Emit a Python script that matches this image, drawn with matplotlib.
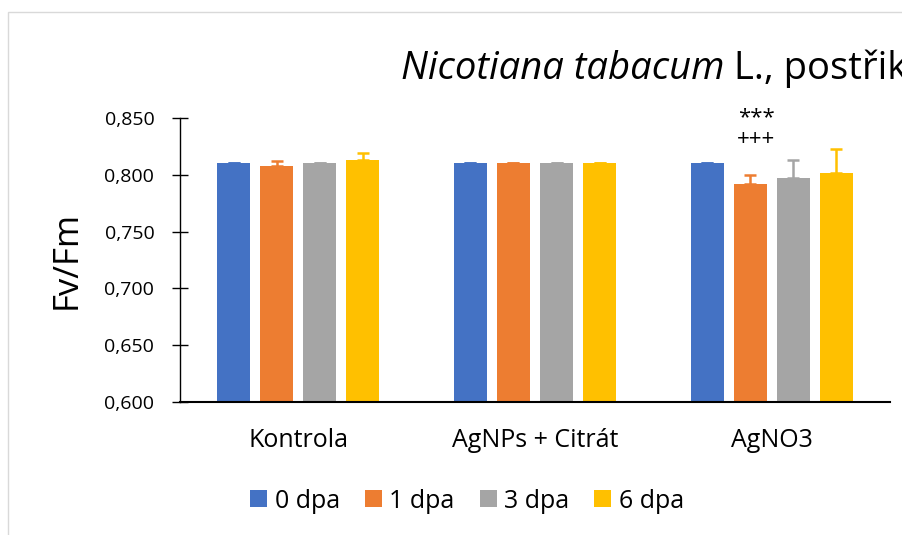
import matplotlib
matplotlib.use("Agg")
import matplotlib.pyplot as plt
import numpy as np
from matplotlib.patches import Rectangle

plt.rcParams['font.family'] = ['Open Sans', 'DejaVu Sans']

groups = ['Kontrola', 'AgNPs + Citrát', 'AgNO3']
series = ['0 dpa', '1 dpa', '3 dpa', '6 dpa']
colors = ['#4472C4', '#ED7D31', '#A5A5A5', '#FFC000']
values = [
    [0.810, 0.810, 0.810],
    [0.808, 0.810, 0.792],
    [0.810, 0.810, 0.797],
    [0.813, 0.810, 0.802],
]
errors = [
    [0.0008, 0.0008, 0.0008],
    [0.0045, 0.0008, 0.0076],
    [0.0008, 0.0008, 0.0156],
    [0.0060, 0.0008, 0.0206],
]
yticks = [0.600, 0.650, 0.700, 0.750, 0.800, 0.850]

W, H = 902, 535
fig = plt.figure(figsize=(W / 100, H / 100), dpi=100)
ax = fig.add_axes([180 / W, 1 - 402 / H, 710 / W, 284 / H])

x = np.arange(len(groups))
bw = 0.139
step = 0.182
for i, s in enumerate(series):
    pos = x + (i - 1.5) * step
    ax.bar(pos, values[i], bw, color=colors[i], label=s, zorder=2)
    ax.errorbar(pos, values[i], yerr=[np.zeros(3), errors[i]], fmt='none',
                ecolor=colors[i], elinewidth=1.8, capsize=4.5, capthick=1.8,
                zorder=3)

ax.set_ylim(0.6, 0.85)
ax.set_xlim(-0.5, 2.5)
ax.set_yticks(yticks)
ax.set_yticklabels([f'{v:.3f}'.replace('.', ',') for v in yticks], fontsize=14)
ax.set_xticks(x)
ax.set_xticklabels(groups, fontsize=18)
ax.tick_params(axis='x', length=0, pad=19)
ax.tick_params(axis='y', length=12, width=1, direction='inout', pad=12.5)
ax.spines['top'].set_visible(False)
ax.spines['right'].set_visible(False)
ax.spines['bottom'].set_linewidth(1.5)
ax.spines['left'].set_linewidth(1.0)
ax.set_ylabel('Fv/Fm', fontsize=25)
ax.yaxis.set_label_coords((84 - 180) / 710, 0.5)

# significance marks over 1 dpa AgNO3
sx = x[2] + (1 - 1.5) * step + 0.025
ax.text(sx, 0.8505, '***', ha='center', va='center', fontsize=16, clip_on=False)
ax.text(sx, 0.8310, '+++', ha='center', va='center', fontsize=16, clip_on=False)

t1 = fig.text(401 / W, 1 - 79.3 / H, 'Nicotiana tabacum', fontsize=27.5,
              style='italic', va='baseline', ha='left')
ax.annotate(' L., postřik', xy=(1, 0), xycoords=t1, fontsize=27.5,
            va='bottom', ha='left', annotation_clip=False)

ax.legend(loc='center', bbox_to_anchor=(467 / W, 1 - 501 / H),
          bbox_transform=fig.transFigure, ncol=4, frameon=False, fontsize=18,
          handlelength=0.68, handleheight=0.68, handletextpad=0.3,
          columnspacing=1.0, borderpad=0)

fig.patches.append(Rectangle((8 / W, -0.1), 1.2, 1 - 12 / H + 0.1,
                             transform=fig.transFigure, fill=False,
                             edgecolor='#d9d9d9', linewidth=1))

fig.savefig('out.png', dpi=100)
